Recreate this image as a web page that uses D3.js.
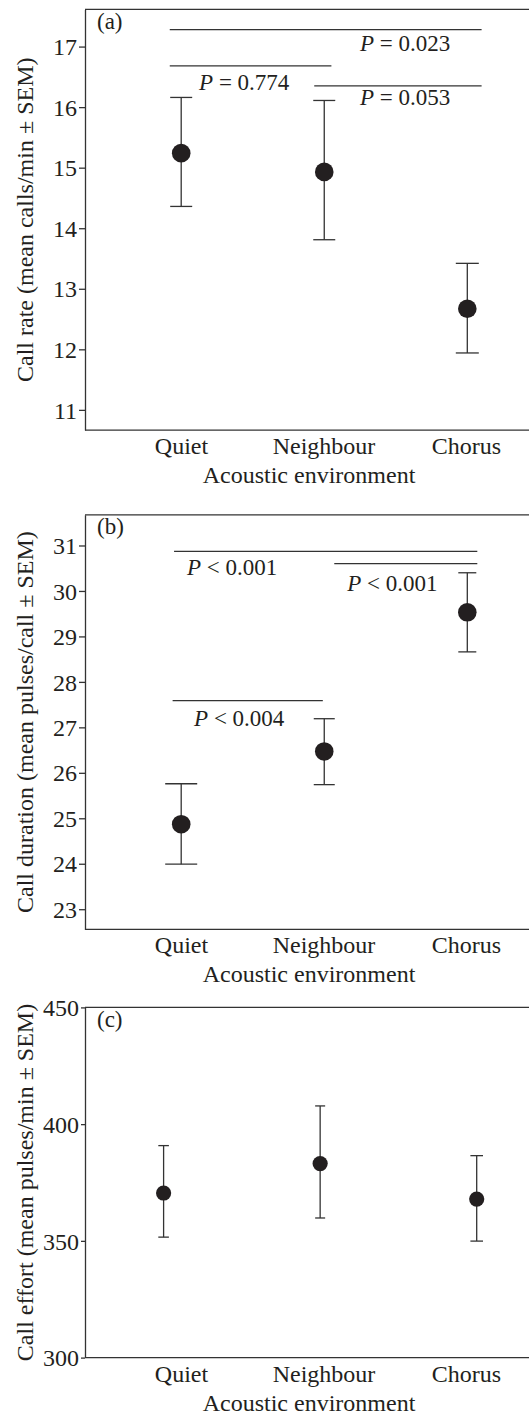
<!DOCTYPE html>
<html>
<head>
  <meta charset="utf-8">
  <script src="https://d3js.org/d3.v7.min.js"></script>
  <style>
    body { margin: 0; background: #fff; }
    svg text { font-family: "Liberation Serif", "DejaVu Serif", serif; fill: #231f20; }
  </style>
</head>
<body>
<script>
  // categories and tick labels
  var envs = ["Quiet", "Neighbour", "Chorus"];
  var ticksA = [11, 12, 13, 14, 15, 16, 17];
  var ticksB = [23, 24, 25, 26, 27, 28, 29, 30, 31];
  var ticksC = [300, 350, 400, 450];

  // (a) call rate: mean, mean - SEM, mean + SEM
  var rateMean = [15.24, 14.93, 12.67];
  var rateLo   = [14.36, 13.81, 11.94];
  var rateHi   = [16.16, 16.11, 13.42];

  // (b) call duration
  var durMean = [24.87, 26.47, 29.53];
  var durLo   = [23.99, 25.74, 28.66];
  var durHi   = [25.76, 27.19, 30.40];

  // (c) call effort
  var effMean = [370.5, 383.1, 367.9];
  var effLo   = [351.6, 359.8, 349.9];
  var effHi   = [390.8, 407.8, 386.5];

  // pairwise comparisons: [from index, to index, line value, text, text index, text value]
  var sigA = [
    [-0.08, 2.10, 17.28, "= 0.023", 1.25, 16.93],
    [-0.08, 1.05, 16.68, "= 0.774", 0.125, 16.28],
    [0.93, 2.10, 16.35, "= 0.053", 1.25, 16.03]
  ];
  var sigB = [
    [-0.05, 2.07, 30.87, "< 0.001", 0.04, 30.34],
    [1.07, 2.07, 30.60, "< 0.001", 1.16, 30.00],
    [-0.06, 0.99, 27.59, "< 0.004", 0.09, 27.02]
  ];

  var W = 529, H = 1416;
  var left = 85;
  var ink = "#333";

  var svg = d3.select("body").append("svg")
      .attr("width", W)
      .attr("height", H);

  var panels = [
    { tag: "(a)", top: 9.4, bottom: 430.1, dom: [10.666, 17.614], ticks: ticksA,
      mean: rateMean, lo: rateLo, hi: rateHi, sig: sigA, ptRange: [181.2, 467.3],
      r: 9.3, cap: [11, 11, 11.5], tickLen: 6,
      title: "Call rate (mean calls/min \u00b1 SEM)" },
    { tag: "(b)", top: 514.8, bottom: 929.4, dom: [22.556, 31.675], ticks: ticksB,
      mean: durMean, lo: durLo, hi: durHi, sig: sigB, ptRange: [181.2, 467.3],
      r: 9.3, cap: [16, 10.5, 9], tickLen: 6,
      title: "Call duration (mean pulses/call \u00b1 SEM)" },
    { tag: "(c)", top: 1007.4, bottom: 1357.6, dom: [300, 450], ticks: ticksC,
      mean: effMean, lo: effLo, hi: effHi, sig: [], ptRange: [163.6, 476.7],
      r: 7.6, cap: [5.3, 5, 6.3], tickLen: 4,
      title: "Call effort (mean pulses/min \u00b1 SEM)" }
  ];

  // label positions along x, same for every panel
  var xLab = d3.scaleLinear().domain([0, 2]).range([181, 466]);

  panels.forEach(function(p) {
    var g = svg.append("g");
    var y = d3.scaleLinear().domain(p.dom).range([p.bottom, p.top]);
    var xp = d3.scaleLinear().domain([0, 2]).range(p.ptRange);
    var xs = d3.scaleLinear().domain([0, 2]).range([181.2, 467.3]);

    // left axis
    var ya = g.append("g")
        .attr("transform", "translate(" + left + ",0)")
        .call(d3.axisLeft(y).tickValues(p.ticks).tickFormat(d3.format("d"))
          .tickSizeInner(p.tickLen).tickSizeOuter(0).tickPadding(2));
    ya.selectAll("path, line").attr("stroke", ink).attr("stroke-width", 1.3);
    ya.selectAll("text").style("font-size", "24px").attr("fill", "#231f20")
      .attr("dy", "0.34em");

    // top and bottom frame lines
    g.selectAll(".frame").data([p.top, p.bottom]).enter().append("line")
        .attr("x1", left).attr("x2", W)
        .attr("y1", function(d) { return d; })
        .attr("y2", function(d) { return d; })
        .attr("stroke", ink).attr("stroke-width", 1.3);

    // category labels
    var xa = g.append("g")
        .attr("transform", "translate(0," + p.bottom + ")")
        .call(d3.axisBottom(xLab).tickValues([0, 1, 2])
          .tickFormat(function(i) { return envs[i]; })
          .tickSize(0).tickPadding(0));
    xa.select(".domain").remove();
    xa.selectAll("text").style("font-size", "24px").attr("fill", "#231f20")
      .attr("dy", "24px");

    g.append("text")
        .attr("x", 309)
        .attr("y", p.bottom + 53)
        .attr("text-anchor", "middle")
        .style("font-size", "24px")
        .text("Acoustic environment");

    g.append("text")
        .attr("transform", "translate(33," + ((p.top + p.bottom) / 2) + ") rotate(-90)")
        .attr("text-anchor", "middle")
        .style("font-size", "24px")
        .text(p.title);

    g.append("text")
        .attr("x", 97)
        .attr("y", p.top + 19.5)
        .style("font-size", "23px")
        .text(p.tag);

    // significance lines
    g.selectAll(".sig").data(p.sig).enter().append("line")
        .attr("x1", function(d) { return xs(d[0]); })
        .attr("x2", function(d) { return xs(d[1]); })
        .attr("y1", function(d) { return y(d[2]); })
        .attr("y2", function(d) { return y(d[2]); })
        .attr("stroke", ink).attr("stroke-width", 1.3);

    var st = g.selectAll(".sigtxt").data(p.sig).enter().append("text")
        .attr("x", function(d) { return xs(d[4]); })
        .attr("y", function(d) { return y(d[5]); })
        .style("font-size", "23px");
    st.append("tspan").style("font-style", "italic").text("P");
    st.append("tspan").text(function(d) { return " " + d[3]; });

    // error bars
    var idx = [0, 1, 2];
    g.selectAll(".stem").data(idx).enter().append("line")
        .attr("x1", function(i) { return xp(i); })
        .attr("x2", function(i) { return xp(i); })
        .attr("y1", function(i) { return y(p.lo[i]); })
        .attr("y2", function(i) { return y(p.hi[i]); })
        .attr("stroke", ink).attr("stroke-width", 1.3);

    g.selectAll(".capHi").data(idx).enter().append("line")
        .attr("x1", function(i) { return xp(i) - p.cap[i]; })
        .attr("x2", function(i) { return xp(i) + p.cap[i]; })
        .attr("y1", function(i) { return y(p.hi[i]); })
        .attr("y2", function(i) { return y(p.hi[i]); })
        .attr("stroke", ink).attr("stroke-width", 1.3);

    g.selectAll(".capLo").data(idx).enter().append("line")
        .attr("x1", function(i) { return xp(i) - p.cap[i]; })
        .attr("x2", function(i) { return xp(i) + p.cap[i]; })
        .attr("y1", function(i) { return y(p.lo[i]); })
        .attr("y2", function(i) { return y(p.lo[i]); })
        .attr("stroke", ink).attr("stroke-width", 1.3);

    g.selectAll(".dot").data(idx).enter().append("circle")
        .attr("cx", function(i) { return xp(i); })
        .attr("cy", function(i) { return y(p.mean[i]); })
        .attr("r", p.r)
        .attr("fill", "#231f20");
  });
</script>
</body>
</html>
